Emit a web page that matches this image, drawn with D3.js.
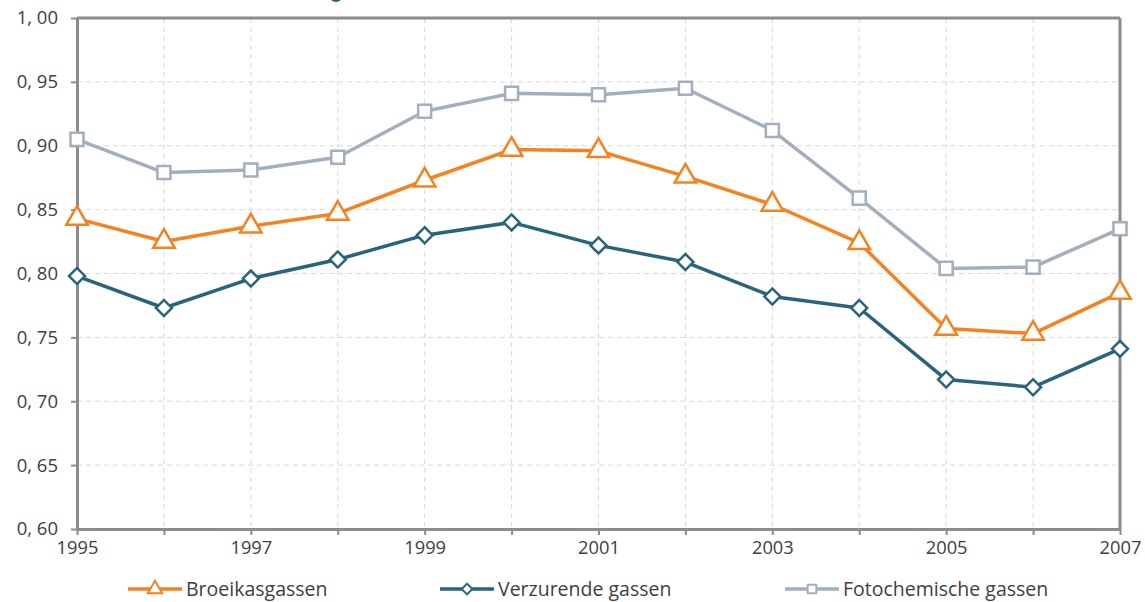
<!DOCTYPE html>
<html>
<head>
<meta charset="utf-8">
<script src="https://cdn.jsdelivr.net/npm/d3@7"></script>
<style>
  body { margin: 0; background: #fff; }
  text { font-family: "Open Sans", "DejaVu Sans", sans-serif; fill: #404040; }
</style>
</head>
<body>
<div class="canvas"></div>
<script>
// data
const years = [1995, 1996, 1997, 1998, 1999, 2000, 2001, 2002, 2003, 2004, 2005, 2006, 2007]
const yearLabels = [1995, 1997, 1999, 2001, 2003, 2005, 2007]
const yTicks = [0.60, 0.65, 0.70, 0.75, 0.80, 0.85, 0.90, 0.95, 1.00]
const broeikas = [0.843, 0.825, 0.837, 0.847, 0.873, 0.897, 0.896, 0.876, 0.854, 0.824, 0.757, 0.753, 0.785]
const verzurend = [0.798, 0.773, 0.796, 0.811, 0.830, 0.840, 0.822, 0.809, 0.782, 0.773, 0.717, 0.711, 0.741]
const fotochem = [0.905, 0.879, 0.881, 0.891, 0.927, 0.941, 0.940, 0.945, 0.912, 0.859, 0.804, 0.805, 0.835]
const seriesNames = ['Broeikasgassen', 'Verzurende gassen', 'Fotochemische gassen']

const dims = {width: 1145, height: 602}
const margin = {left: 77, right: 25, top: 18, bottom: 73}

const series = [
    {name: seriesNames[0], values: broeikas, colour: '#f5821f', shape: 'triangle'},
    {name: seriesNames[1], values: verzurend, colour: '#29657a', shape: 'diamond'},
    {name: seriesNames[2], values: fotochem, colour: '#a3afbd', shape: 'square'}
]

const svg = d3.select('.canvas')
    .append('svg')
    .attr('width', dims.width)
    .attr('height', dims.height)

// little bit of the clipped title logo at the top
svg.append('ellipse')
    .attr('cx', 336).attr('cy', -5)
    .attr('rx', 7).attr('ry', 7)
    .attr('fill', '#29657a')

const x = d3.scaleLinear()
    .domain([1995, 2007])
    .range([margin.left, dims.width - margin.right])

const y = d3.scaleLinear()
    .domain([0.6, 1.0])
    .range([dims.height - margin.bottom, margin.top])

const fmt = d => d3.format('.2f')(d).replace('.', ', ')

//grid
const grid = svg.append('g')
grid.selectAll('line.v')
    .data(years.slice(1, -1))
    .enter().append('line')
    .attr('x1', d => x(d)).attr('x2', d => x(d))
    .attr('y1', y(1)).attr('y2', y(0.6))
    .attr('stroke', '#d9d9d9')
    .attr('stroke-dasharray', '5,4')
grid.selectAll('line.h')
    .data(yTicks.slice(1, -1))
    .enter().append('line')
    .attr('x1', x(1995)).attr('x2', x(2007))
    .attr('y1', d => y(d)).attr('y2', d => y(d))
    .attr('stroke', '#d9d9d9')
    .attr('stroke-dasharray', '5,4')

//axes
const axisColour = '#8c8c8c'
const xAxis = svg.append('g')
    .attr('transform', `translate(0, ${y(0.6)})`)
    .call(d3.axisBottom(x).tickValues(years).tickSize(6).tickSizeOuter(0)
        .tickFormat(d => yearLabels.includes(d) ? d : ''))
xAxis.select('.domain').attr('stroke', axisColour).attr('stroke-width', 3)
xAxis.selectAll('.tick line').attr('stroke', axisColour).attr('stroke-width', 2)
xAxis.selectAll('.tick text').attr('font-size', 18.3).attr('dy', '0.85em').attr('fill', '#404040')
    .style('font-family', '"Open Sans", sans-serif')

const yAxis = svg.append('g')
    .attr('transform', `translate(${x(1995)}, 0)`)
    .call(d3.axisLeft(y).tickValues(yTicks).tickSize(6).tickSizeOuter(0).tickFormat(fmt))
yAxis.select('.domain').attr('stroke', axisColour).attr('stroke-width', 3)
yAxis.selectAll('.tick line').attr('stroke', axisColour).attr('stroke-width', 2)
yAxis.selectAll('.tick text').attr('font-size', 18.5).attr('x', -19).attr('fill', '#404040')
    .style('font-family', '"Open Sans", sans-serif')

// top and right border
svg.append('line')
    .attr('x1', x(1995)).attr('x2', x(2007))
    .attr('y1', y(1)).attr('y2', y(1))
    .attr('stroke', axisColour).attr('stroke-width', 3)
svg.append('line')
    .attr('x1', x(2007)).attr('x2', x(2007))
    .attr('y1', y(1)).attr('y2', y(0.6))
    .attr('stroke', axisColour).attr('stroke-width', 3)

const shapes = {
    triangle: d3.symbol().type(d3.symbolTriangle),
    diamond: d3.symbol().type(d3.symbolSquare),
    square: d3.symbol().type(d3.symbolSquare)
}
const markerPath = (shape, big) => {
    const size = big ? 170 : 75
    if (shape === 'triangle') return shapes.triangle.size(big ? 200 : 90)()
    return shapes[shape].size(shape === 'diamond' ? size * 0.75 : size)()
}
const markerRotate = shape => shape === 'diamond' ? 45 : 0

const line = d3.line()
    .x((d, i) => x(years[i]))
    .y(d => y(d))

series.forEach(s => {
    svg.append('path')
        .datum(s.values)
        .attr('d', line)
        .attr('fill', 'none')
        .attr('stroke', s.colour)
        .attr('stroke-width', 3.5)
        .attr('stroke-linejoin', 'round')

    svg.append('g').selectAll('path')
        .data(s.values)
        .enter().append('path')
        .attr('d', markerPath(s.shape, true))
        .attr('transform', (d, i) => `translate(${x(years[i])}, ${y(d)}) rotate(${markerRotate(s.shape)})`)
        .attr('fill', '#fff')
        .attr('stroke', s.colour)
        .attr('stroke-width', 2.5)
})

// legend
const legendX = [128, 440, 785]
const legend = svg.append('g').attr('transform', 'translate(0, 589)')
series.forEach((s, i) => {
    const g = legend.append('g').attr('transform', `translate(${legendX[i]}, 0)`)
    g.append('line')
        .attr('x1', 0).attr('x2', 54)
        .attr('stroke', s.colour).attr('stroke-width', 3.5)
    g.append('path')
        .attr('d', markerPath(s.shape, false))
        .attr('transform', `translate(27, 0) rotate(${markerRotate(s.shape)})`)
        .attr('fill', '#fff')
        .attr('stroke', s.colour)
        .attr('stroke-width', 2)
    g.append('text')
        .attr('x', 58).attr('dy', '0.35em')
        .attr('font-size', 19.5)
        .text(s.name)
})
</script>
</body>
</html>
